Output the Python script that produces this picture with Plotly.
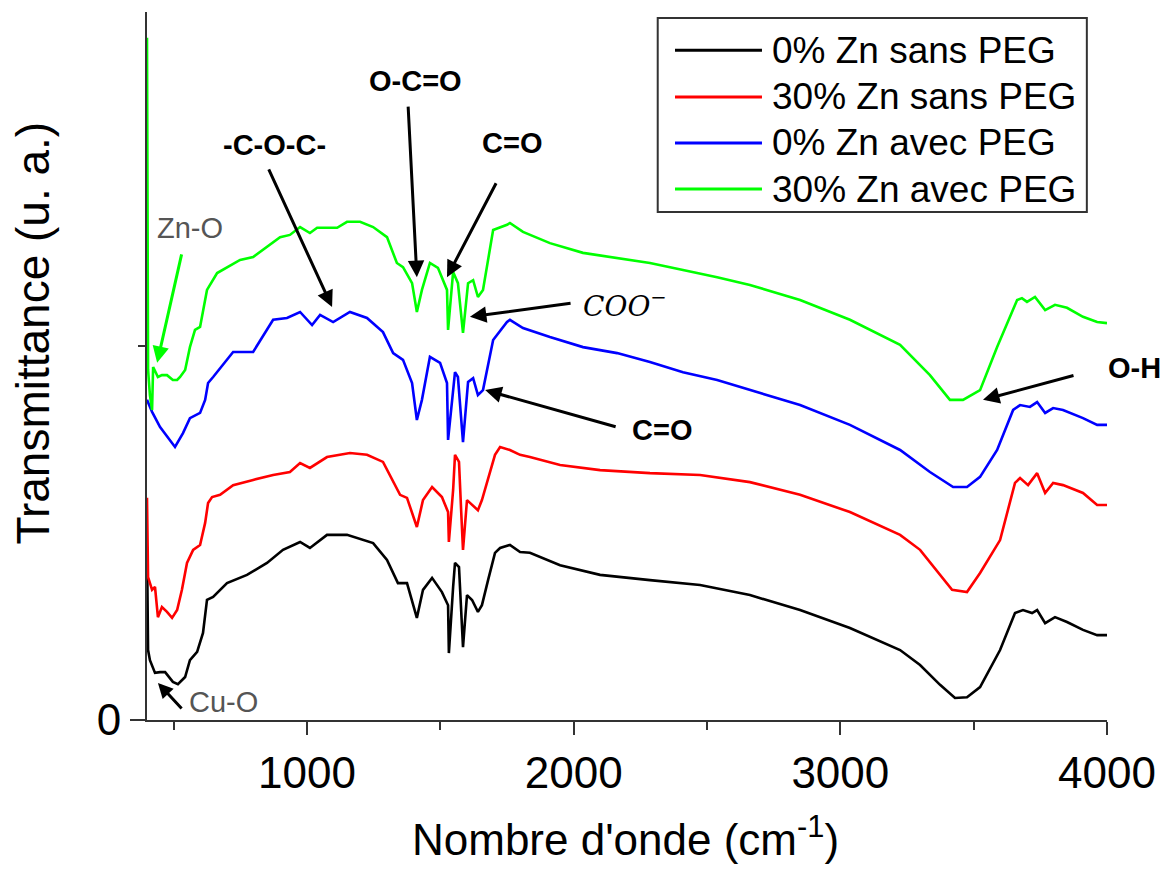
import plotly.graph_objects as go

# ---------------- data ----------------
series_names = ["0% Zn sans PEG", "30% Zn sans PEG", "0% Zn avec PEG", "30% Zn avec PEG"]
series_colors = ["#000000", "#ff0000", "#0000ff", "#00ff00"]

wn_black = [400, 404, 411, 430, 449, 468, 497, 516, 543, 561, 588, 610, 625, 648, 700, 775, 850, 910, 974, 1011,
            1075, 1150, 1248, 1300, 1341, 1375, 1412, 1435, 1469, 1506, 1529, 1532, 1548, 1555, 1570, 1578, 1585,
            1600, 1619, 1641, 1656, 1679, 1705, 1724, 1761, 1799, 1836, 1949, 2099, 2286, 2474, 2661, 2849, 3036,
            3224, 3299, 3374, 3430, 3475, 3524, 3599, 3655, 3685, 3719, 3738, 3768, 3805, 3850, 3910, 3963, 4000]
t_black = [0.463, 0.187, 0.160, 0.126, 0.128, 0.128, 0.102, 0.096, 0.115, 0.160, 0.182, 0.233, 0.321, 0.329, 0.366,
           0.388, 0.420, 0.455, 0.476, 0.460, 0.495, 0.495, 0.473, 0.428, 0.366, 0.366, 0.273, 0.348, 0.380, 0.342,
           0.307, 0.179, 0.356, 0.420, 0.409, 0.313, 0.195, 0.334, 0.321, 0.289, 0.307, 0.374, 0.447, 0.460, 0.468,
           0.449, 0.447, 0.414, 0.388, 0.374, 0.361, 0.334, 0.294, 0.246, 0.187, 0.147, 0.094, 0.059, 0.061, 0.088,
           0.187, 0.286, 0.294, 0.286, 0.294, 0.259, 0.275, 0.262, 0.241, 0.227, 0.227]

wn_red = [400, 404, 419, 430, 441, 456, 475, 494, 513, 531, 550, 573, 599, 618, 629, 644, 674, 723, 798, 873, 936,
          974, 1011, 1075, 1161, 1225, 1285, 1341, 1349, 1375, 1412, 1435, 1469, 1506, 1529, 1532, 1548, 1555, 1570,
          1578, 1585, 1600, 1619, 1641, 1656, 1679, 1705, 1724, 1761, 1799, 1836, 1949, 2099, 2286, 2474, 2661,
          2849, 3036, 3224, 3299, 3374, 3419, 3475, 3524, 3599, 3655, 3674, 3704, 3738, 3768, 3798, 3835, 3910,
          3963, 4000]
t_red = [0.594, 0.382, 0.348, 0.356, 0.275, 0.302, 0.289, 0.273, 0.294, 0.348, 0.420, 0.455, 0.468, 0.527, 0.580,
         0.596, 0.602, 0.628, 0.642, 0.655, 0.663, 0.687, 0.674, 0.703, 0.714, 0.709, 0.690, 0.615, 0.602, 0.594,
         0.516, 0.588, 0.623, 0.596, 0.556, 0.476, 0.615, 0.709, 0.690, 0.561, 0.455, 0.588, 0.575, 0.561, 0.588,
         0.642, 0.709, 0.730, 0.722, 0.709, 0.703, 0.682, 0.668, 0.660, 0.655, 0.636, 0.602, 0.556, 0.495, 0.455,
         0.388, 0.348, 0.342, 0.393, 0.481, 0.634, 0.647, 0.628, 0.660, 0.607, 0.634, 0.628, 0.607, 0.575, 0.575]

wn_blue = [400, 419, 449, 486, 505, 535, 561, 599, 618, 629, 648, 723, 798, 873, 925, 974, 1019, 1049, 1098, 1161,
           1225, 1285, 1323, 1360, 1394, 1412, 1431, 1461, 1499, 1525, 1529, 1555, 1566, 1585, 1604, 1623, 1641,
           1660, 1698, 1750, 1761, 1810, 1911, 2035, 2163, 2286, 2410, 2538, 2661, 2849, 3036, 3224, 3336, 3423,
           3475, 3524, 3588, 3648, 3674, 3711, 3738, 3768, 3798, 3835, 3910, 3963, 4000]
t_blue = [0.856, 0.824, 0.783, 0.749, 0.730, 0.767, 0.807, 0.821, 0.856, 0.901, 0.917, 0.984, 0.984, 1.070, 1.075,
          1.091, 1.056, 1.083, 1.064, 1.091, 1.075, 1.037, 0.981, 0.963, 0.901, 0.802, 0.856, 0.971, 0.955, 0.901,
          0.749, 0.930, 0.917, 0.743, 0.904, 0.914, 0.869, 0.882, 1.016, 1.064, 1.070, 1.048, 1.024, 0.997, 0.981,
          0.957, 0.930, 0.909, 0.882, 0.842, 0.789, 0.722, 0.663, 0.623, 0.623, 0.650, 0.722, 0.829, 0.842, 0.837,
          0.850, 0.821, 0.834, 0.829, 0.807, 0.789, 0.789]

wn_green = [400, 404, 411, 419, 423, 441, 456, 475, 497, 513, 524, 543, 561, 580, 599, 625, 663, 700, 749, 798, 850,
            899, 936, 974, 1011, 1038, 1113, 1150, 1199, 1248, 1300, 1337, 1360, 1394, 1412, 1431, 1461, 1491, 1525,
            1529, 1548, 1566, 1585, 1604, 1623, 1641, 1660, 1698, 1750, 1761, 1810, 1911, 2035, 2163, 2286, 2410,
            2538, 2661, 2849, 3036, 3224, 3336, 3411, 3460, 3524, 3588, 3636, 3663, 3681, 3700, 3730, 3768, 3805,
            3850, 3910, 3963, 4000]
t_green = [1.824, 0.936, 0.869, 0.829, 0.944, 0.917, 0.922, 0.922, 0.909, 0.909, 0.917, 0.936, 0.997, 1.043, 1.051,
           1.150, 1.195, 1.211, 1.230, 1.238, 1.265, 1.291, 1.297, 1.318, 1.302, 1.316, 1.316, 1.332, 1.332, 1.318,
           1.291, 1.222, 1.211, 1.168, 1.091, 1.150, 1.222, 1.209, 1.150, 1.043, 1.198, 1.168, 1.035, 1.168, 1.176,
           1.131, 1.150, 1.310, 1.324, 1.329, 1.305, 1.275, 1.249, 1.235, 1.222, 1.203, 1.184, 1.163, 1.123, 1.070,
           1.003, 0.922, 0.856, 0.856, 0.882, 0.997, 1.078, 1.123, 1.128, 1.118, 1.131, 1.096, 1.110, 1.102, 1.078,
           1.064, 1.061]

x_tickvals = [1000, 2000, 3000, 4000]
x_ticktext = ["1000", "2000", "3000", "4000"]
x_minor = [500, 1500, 2500, 3500]

# band labels: text, text position (wn, T), arrow head (wn, T), arrow tail (wn, T)
band_labels = ["-C-O-C-", "O-C=O", "C=O", "C=O"]
band_text_pos = [(878, 1.537), (1405, 1.709), (1769, 1.543), (2331, 0.775)]
band_heads = [(1094, 1.104), (1412, 1.184), (1525, 1.184), (1668, 0.882)]
band_tails = [(854, 1.476), (1379, 1.644), (1712, 1.439), (2163, 0.783)]

FONT = "Arial, Liberation Sans, sans-serif"

fig = go.Figure()
all_x = [wn_black, wn_red, wn_blue, wn_green]
all_y = [t_black, t_red, t_blue, t_green]
for name, col, xs, ys in zip(series_names, series_colors, all_x, all_y):
    fig.add_trace(go.Scatter(x=xs, y=ys, mode="lines", name=name,
                             line=dict(color=col, width=2.6), showlegend=False))

ann = []
# bold band labels + arrows
for lab, tp, hd, tl in zip(band_labels, band_text_pos, band_heads, band_tails):
    ann.append(dict(x=tp[0], y=tp[1], xref="x", yref="y", text="<b>" + lab + "</b>", showarrow=False,
                    font=dict(family=FONT, size=29, color="black"), xanchor="center", yanchor="middle"))
    ann.append(dict(x=hd[0], y=hd[1], xref="x", yref="y", ax=tl[0], ay=tl[1], axref="x", ayref="y",
                    text="", showarrow=True, arrowhead=2, arrowsize=1.1, arrowwidth=3, arrowcolor="black"))

# COO- label
ann.append(dict(x=2192, y=1.112, xref="x", yref="y", text="<i>COO</i><sup>−</sup>", showarrow=False,
                font=dict(family="DejaVu Serif, Liberation Serif, serif", size=28, color="black"),
                xanchor="center", yanchor="middle"))
ann.append(dict(x=1611, y=1.078, xref="x", yref="y", ax=1994, ay=1.115, axref="x", ayref="y",
                text="", showarrow=True, arrowhead=2, arrowsize=1.1, arrowwidth=3, arrowcolor="black"))
# O-H label (outside the axis range -> paper coords)
ann.append(dict(x=1.029, y=0.497, xref="paper", yref="paper", text="<b>O-H</b>", showarrow=False,
                font=dict(family=FONT, size=29, color="black"), xanchor="center", yanchor="middle"))
ann.append(dict(x=3535, y=0.856, xref="x", yref="y", ax=3880, ay=0.922, axref="x", ayref="y",
                text="", showarrow=True, arrowhead=2, arrowsize=1.1, arrowwidth=3, arrowcolor="black"))
# Zn-O
ann.append(dict(x=430, y=1.316, xref="x", yref="y", text="Zn-O", showarrow=False,
                font=dict(family=FONT, size=29, color="#555555"), xanchor="left", yanchor="middle"))
ann.append(dict(x=438, y=0.955, xref="x", yref="y", ax=531, ay=1.249, axref="x", ayref="y",
                text="", showarrow=True, arrowhead=2, arrowsize=1.1, arrowwidth=3, arrowcolor="#00ff00"))
# Cu-O
ann.append(dict(x=550, y=0.048, xref="x", yref="y", text="Cu-O", showarrow=False,
                font=dict(family=FONT, size=29, color="#555555"), xanchor="left", yanchor="middle"))
ann.append(dict(x=441, y=0.099, xref="x", yref="y", ax=535, ay=0.027, axref="x", ayref="y",
                text="", showarrow=True, arrowhead=2, arrowsize=1.0, arrowwidth=3, arrowcolor="black"))

# axis titles
ann.append(dict(x=0.498, y=-0.165, xref="paper", yref="paper", text="Nombre d'onde (cm<sup>-1</sup>)",
                showarrow=False, font=dict(family=FONT, size=44, color="black"),
                xanchor="center", yanchor="middle", borderpad=0))
ann.append(dict(x=-0.119, y=0.547, xref="paper", yref="paper", text="Transmittance (u. a.)",
                showarrow=False, textangle=-90, font=dict(family=FONT, size=46, color="black"),
                xanchor="center", yanchor="middle"))

# custom legend (long line samples)
shapes = [dict(type="rect", xref="paper", yref="paper", x0=0.532, x1=0.979, y0=0.7175, y1=0.9915,
               line=dict(color="#333333", width=2), fillcolor="white", layer="above")]
leg_y = [0.946, 0.880, 0.815, 0.750]
for name, col, ly in zip(series_names, series_colors, leg_y):
    shapes.append(dict(type="line", xref="paper", yref="paper", x0=0.55, x1=0.6406, y0=ly, y1=ly,
                       line=dict(color=col, width=3), layer="above"))
    ann.append(dict(x=0.649, y=ly, xref="paper", yref="paper", text=name, showarrow=False,
                    font=dict(family=FONT, size=37, color="black"), xanchor="left", yanchor="middle"))

# page body has an 8px margin: shrink the figure and shift the margins so the plot area lands in place
fig.update_layout(
    width=1160, height=859,
    margin=dict(l=139, r=61, t=4, b=147),
    paper_bgcolor="white", plot_bgcolor="white",
    annotations=ann, shapes=shapes,
    showlegend=False,
)
fig.update_xaxes(range=[400, 4000], showline=True, linecolor="#333333", linewidth=2, mirror=False,
                 showgrid=False, zeroline=False, ticks="outside", ticklen=13, tickwidth=2, tickcolor="#333333",
                 tickvals=x_tickvals, ticktext=x_ticktext,
                 tickfont=dict(family=FONT, size=44, color="black"),
                 minor=dict(tickvals=x_minor, ticks="outside", ticklen=8, tickwidth=2, tickcolor="#333333"))
fig.update_yaxes(range=[0, 1.893], showline=True, linecolor="#333333", linewidth=2, mirror=False,
                 showgrid=False, zeroline=False, ticks="outside", ticklen=15, tickwidth=2, tickcolor="#333333",
                 tickvals=[0], ticktext=["0"],
                 tickfont=dict(family=FONT, size=44, color="black"),
                 minor=dict(tickvals=[1], ticks="outside", ticklen=7, tickwidth=2, tickcolor="#333333"))

fig.write_html("out.html")
